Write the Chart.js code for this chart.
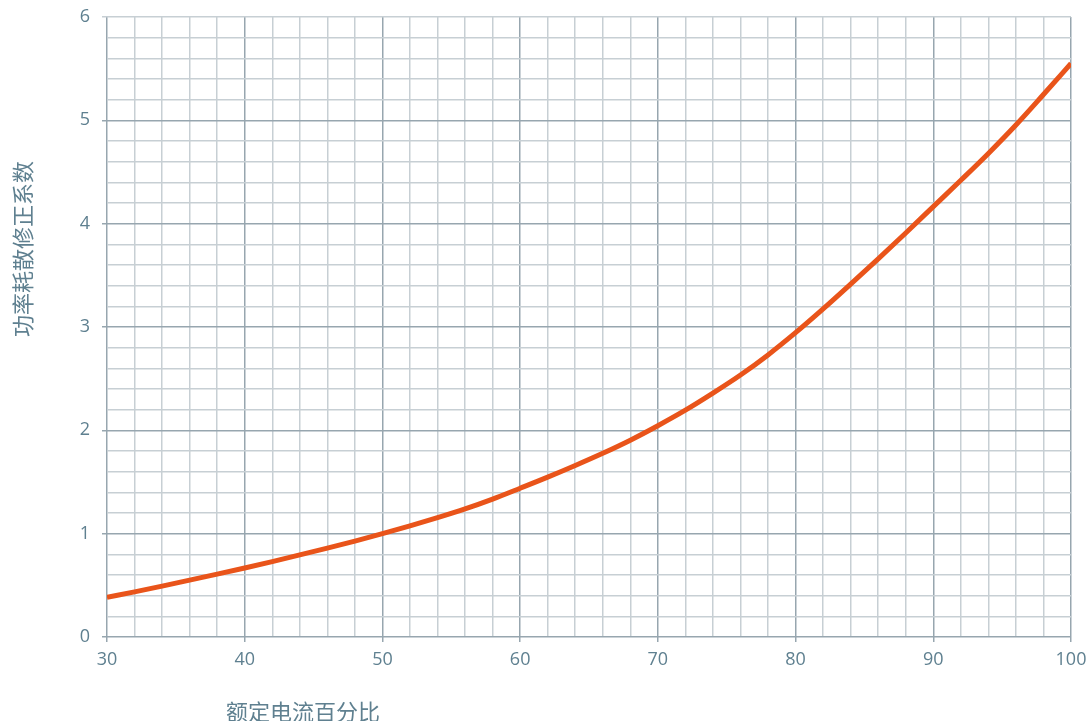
<!DOCTYPE html>
<html>
<head>
<meta charset="utf-8">
<script src="https://cdn.jsdelivr.net/npm/chart.js@4"></script>
<style>
  html, body { margin: 0; padding: 0; background: #ffffff; }
  #wrap { width: 1091px; height: 721px; position: relative; }
</style>
</head>
<body>
<div id="wrap"><canvas id="c" width="1091" height="721"></canvas></div>
<script>
// Data
const currentPercent = [30, 32, 34, 36, 38, 40, 42, 44, 46, 48, 50, 52, 54, 56, 58, 60, 62, 64, 66, 68,
                        70, 72, 74, 76, 78, 80, 82, 84, 86, 88, 90, 92, 94, 96, 98, 100];
const correctionFactor = [0.385, 0.437, 0.492, 0.550, 0.608, 0.668, 0.730, 0.795, 0.860, 0.928,
                          1.000, 1.075, 1.155, 1.240, 1.335, 1.440, 1.547, 1.660, 1.778, 1.905,
                          2.045, 2.195, 2.360, 2.535, 2.730, 2.945, 3.175, 3.415, 3.660, 3.910,
                          4.165, 4.420, 4.680, 4.955, 5.250, 5.550];
const xTitle = '额定电流百分比';
const yTitle = '功率耗散修正系数';

const majorColor = '#97a6af';
const minorColor = '#c7cfd4';
const textColor = '#5f8090';
const lineColor = '#e9541a';

const points = currentPercent.map((x, i) => ({ x: x, y: correctionFactor[i] }));

const isMult = (v, m) => Math.abs(v / m - Math.round(v / m)) < 1e-6;

const titlePlugin = {
  id: 'axisTitles',
  afterDraw(chart) {
    const ctx = chart.ctx;
    const a = chart.chartArea;
    ctx.save();
    ctx.fillStyle = textColor;
    ctx.font = '22px "Noto Sans CJK SC", sans-serif';
    ctx.textAlign = 'center';
    ctx.textBaseline = 'middle';
    ctx.fillText(xTitle, a.left + 196, a.bottom + 75);
    ctx.translate(23, a.top + 232);
    ctx.rotate(-Math.PI / 2);
    ctx.fillText(yTitle, 0, 0);
    ctx.restore();
  }
};

new Chart(document.getElementById('c'), {
  type: 'line',
  data: {
    datasets: [{
      data: points,
      borderColor: lineColor,
      borderWidth: 5,
      pointRadius: 0,
      cubicInterpolationMode: 'monotone',
      fill: false
    }]
  },
  options: {
    responsive: false,
    animation: false,
    devicePixelRatio: 1,
    layout: { padding: { left: 0, right: 20, top: 17, bottom: 0 } },
    plugins: { legend: { display: false }, tooltip: { enabled: false } },
    scales: {
      x: {
        type: 'linear',
        min: 30, max: 100,
        afterFit(s) { s.height = 84; s.paddingLeft = 0; s.paddingRight = 0; },
        border: { display: false },
        grid: {
          color: (c) => isMult(c.tick.value, 10) ? majorColor : minorColor,
          lineWidth: 1.5,
          tickLength: 5,
          tickColor: (c) => isMult(c.tick.value, 10) ? majorColor : 'rgba(0,0,0,0)',
          drawTicks: true
        },
        ticks: {
          stepSize: 2,
          autoSkip: false,
          maxRotation: 0,
          padding: 7,
          color: textColor,
          font: { family: '"Open Sans", sans-serif', size: 18 },
          callback: (v) => isMult(v, 10) ? String(Math.round(v)) : ''
        }
      },
      y: {
        type: 'linear',
        min: 0, max: 6,
        afterFit(s) { s.width = 107; s.paddingTop = 0; s.paddingBottom = 0; },
        border: { display: false },
        grid: {
          color: (c) => (isMult(c.tick.value, 1) && c.tick.value < 5.5) ? majorColor : minorColor,
          lineWidth: 1.5,
          tickLength: 5,
          tickColor: (c) => isMult(c.tick.value, 1) ? ((c.tick.value < 5.5) ? majorColor : minorColor) : 'rgba(0,0,0,0)'
        },
        ticks: {
          stepSize: 0.2,
          autoSkip: false,
          padding: 12,
          color: textColor,
          font: { family: '"Open Sans", sans-serif', size: 18 },
          callback: (v) => isMult(v, 1) ? String(Math.round(v)) : ''
        }
      }
    }
  },
  plugins: [titlePlugin]
});
</script>
</body>
</html>
